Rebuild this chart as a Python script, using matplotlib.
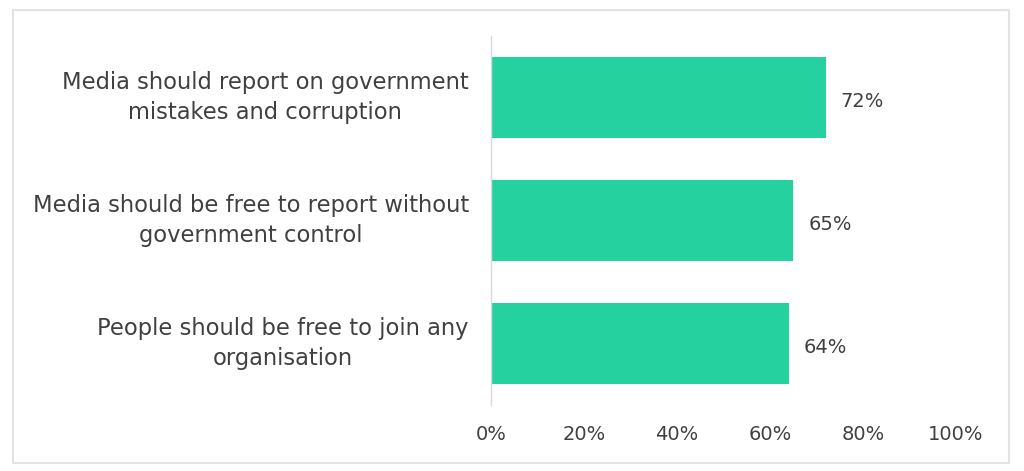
import numpy as np
import matplotlib.pyplot as plt
from matplotlib.patches import Rectangle

# data
categories = ['Media should report on government\nmistakes and corruption',
              'Media should be free to report without\ngovernment control',
              'People should be free to join any\norganisation']
values = [72, 65, 64]
xticks = [0, 20, 40, 60, 80, 100]

plt.rcParams['font.family'] = ['DejaVu Sans']
txt = '#404040'

fig = plt.figure(figsize=(10.24, 4.71), dpi=100)
ax = fig.add_axes([0.4795, 0.140, 0.4541, 0.7836])

y = np.arange(len(categories))
ax.barh(y, values, height=0.66, color='#25D29F')
ax.set_ylim(len(categories) - 0.5, -0.5)
ax.set_xlim(0, 100)

for yi, v in zip(y, values):
    ax.text(v + 3.2, yi + 0.03, f'{v}%', va='center', ha='left', fontsize=14, color=txt)

ax.set_yticks(y)
ax.set_yticklabels(categories, fontsize=16.3, color=txt, multialignment='center',
                   linespacing=1.35)
for lbl in ax.get_yticklabels():
    lbl.set_va('center')
ax.set_xticks(xticks)
ax.set_xticklabels([f'{t}%' for t in xticks], fontsize=14, color=txt)
ax.tick_params(length=0)
ax.tick_params(axis='y', pad=16)
ax.tick_params(axis='x', pad=14)

for s in ['top', 'right', 'bottom']:
    ax.spines[s].set_visible(False)
ax.spines['left'].set_color('#D9D9D9')
ax.spines['left'].set_linewidth(1)

# outer border
fig.patches.append(Rectangle((13 / 1024, 1 - 463 / 471), 996 / 1024, 453 / 471,
                             transform=fig.transFigure, fill=False,
                             edgecolor='#E3E3E3', linewidth=1.5))

fig.savefig('out.png', dpi=100)
